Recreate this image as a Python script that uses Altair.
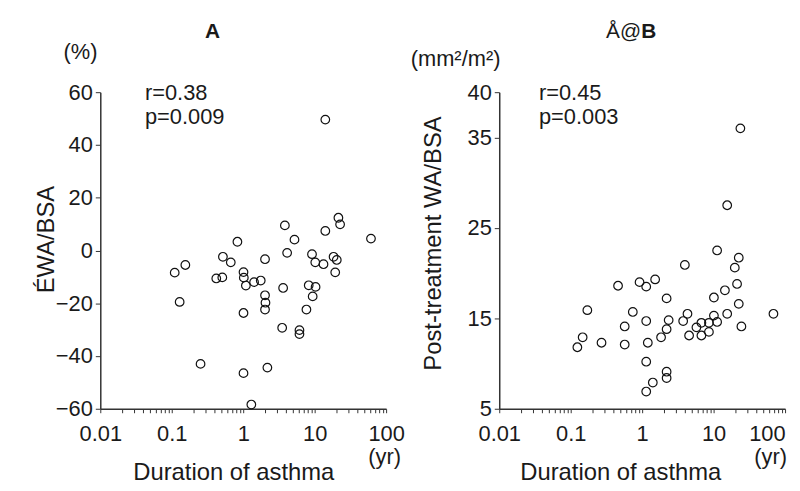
import altair as alt
import pandas as pd

FONT = "Liberation Sans"

# ---------------- data ----------------
a_duration = [14.1, 3.83, 5.22, 21.5, 22.7, 14.1, 61.4, 0.83, 4.12, 9.18,
              10.2, 13.3, 18.4, 20.4, 19.4, 2.02, 0.52, 0.67, 0.155, 0.110,
              0.42, 0.51, 1.01, 1.02, 1.42, 1.76, 3.62, 8.26, 10.3, 1.09,
              0.129, 2.02, 2.05, 2.02, 1.01, 9.38, 7.67, 3.51, 6.13, 6.13,
              0.253, 1.01, 2.18, 1.30]
a_ewa = [49.6, 9.5, 4.1, 12.4, 9.9, 7.4, 4.5, 3.3, -0.9, -1.4,
         -4.5, -5.2, -2.4, -3.6, -8.3, -3.3, -2.4, -4.5, -5.5, -8.4,
         -10.6, -10.2, -8.2, -10.3, -12.0, -11.4, -14.2, -13.2, -13.8, -13.3,
         -19.5, -17.0, -19.8, -22.4, -23.7, -17.4, -22.4, -29.3, -30.2, -31.7,
         -43.0, -46.5, -44.4, -58.4]

b_duration = [23.7, 15.5, 11.2, 22.5, 19.8, 3.96, 0.46, 0.92, 1.14, 1.52,
              21.3, 14.4, 10.1, 2.20, 22.5, 0.171, 0.74, 4.31, 15.5, 10.1,
              68.8, 3.75, 2.35, 1.14, 6.75, 8.6, 11.2, 5.75, 0.57, 24.5,
              2.20, 1.84, 4.54, 6.75, 8.6, 0.147, 0.124, 0.27, 0.57, 1.20,
              1.14, 2.20, 2.20, 1.41, 1.14]
b_wa = [36.0, 27.5, 22.5, 21.7, 20.6, 20.9, 18.6, 19.0, 18.5, 19.3,
        18.8, 18.1, 17.3, 17.2, 16.6, 15.9, 15.7, 15.5, 15.5, 15.3,
        15.5, 14.7, 14.8, 14.7, 14.5, 14.5, 14.6, 14.0, 14.1, 14.1,
        13.8, 12.9, 13.1, 13.1, 13.5, 12.9, 11.8, 12.3, 12.1, 12.3,
        10.2, 9.1, 8.4, 7.9, 6.9]

x_tick_values = [0.01, 0.02, 0.03, 0.04, 0.05, 0.06, 0.07, 0.08, 0.09,
                 0.1, 0.2, 0.3, 0.4, 0.5, 0.6, 0.7, 0.8, 0.9,
                 1, 2, 3, 4, 5, 6, 7, 8, 9,
                 10, 20, 30, 40, 50, 60, 70, 80, 90, 100]
x_domain = [0.01, 100]

a_y_ticks = [-60, -40, -20, 0, 20, 40, 60]
a_y_domain = [-60, 60]
b_y_ticks = [5, 15, 25, 35, 40]
b_y_domain = [5, 40]

W, H = 288, 319
TXT = "#1a1a1a"
AX = "#333333"


def x_enc(last_right, title_x):
    align = {"expr": "datum.value == 100 ? 'right' : 'center'"} if last_right else "center"
    return alt.X(
        "duration:Q",
        scale=alt.Scale(type="log", domain=x_domain, nice=False),
        axis=alt.Axis(
            values=x_tick_values,
            format="~g",
            labelExpr="indexof([0.01, 0.1, 1, 10, 100], datum.value) >= 0 ? datum.label : ''",
            labelOverlap=False,
            labelAlign=align,
            title="Duration of asthma",
            tickSize=4,
            labelPadding=11,
            minExtent=37,
            maxExtent=37,
            titlePadding=15,
            titleX=title_x,
        ),
    )


def y_enc(title, domain, ticks, extent, tpad, title_y):
    return alt.Y(
        "value:Q",
        scale=alt.Scale(domain=domain, nice=False, zero=False),
        axis=alt.Axis(
            values=ticks,
            title=title,
            tickSize=5,
            labelPadding=3,
            minExtent=extent,
            maxExtent=extent,
            titlePadding=tpad,
            titleY=title_y,
        ),
    )


def note(text, x, y, align="left", size=22, weight="normal", baseline="middle"):
    return alt.Chart(pd.DataFrame({"t": [text]})).mark_text(
        align=align, baseline=baseline, fontSize=size, font=FONT,
        fontWeight=weight, color=TXT
    ).encode(x=alt.value(x), y=alt.value(y), text="t:N")


dfA = pd.DataFrame({"duration": a_duration, "value": a_ewa})
dfB = pd.DataFrame({"duration": b_duration, "value": b_wa})

pts_style = dict(shape="circle", filled=False, color="#111111",
                 strokeWidth=1.2, size=75, opacity=1)

pointsA = alt.Chart(dfA).mark_point(**pts_style).encode(
    x=x_enc(False, 134),
    y=y_enc("ÉWA/BSA", a_y_domain, a_y_ticks, 38, 4, 148),
)
panelA = alt.layer(
    pointsA,
    note("r=0.38", 45, 1),
    note("p=0.009", 45, 25),
    note("(%)", -20, -40, align="center"),
    note("(yr)", 303, 368, align="right"),
    note("A", 113, -61, align="center", size=21, weight="bold"),
).properties(width=W, height=H)

pointsB = alt.Chart(dfB).mark_point(**pts_style).encode(
    x=x_enc(True, 122),
    y=y_enc("Post-treatment WA/BSA", b_y_domain, b_y_ticks, 40, 14, 152),
)
panelB = alt.layer(
    pointsB,
    note("r=0.45", 40, 1),
    note("p=0.003", 40, 25),
    note("(mm²/m²)", -44, -33, align="center"),
    note("(yr)", 290, 368, align="right"),
    note("Å@", 143, -61, align="right", size=21),
    note("B", 143, -61, align="left", size=21, weight="bold"),
).properties(width=W, height=H)

chart = alt.hconcat(panelA, panelB, spacing=114, bounds="flush").properties(
    padding={"left": 27, "top": 11, "right": 5, "bottom": 0}
).configure_view(stroke=None).configure_axis(
    grid=False,
    domainColor=AX,
    domainWidth=1.5,
    tickColor=AX,
    tickWidth=1,
    labelFont=FONT,
    labelFontSize=22,
    labelColor=TXT,
    titleFont=FONT,
    titleFontSize=24,
    titleFontWeight="normal",
    titleColor=TXT,
)

chart.save("out.html", embed_options={"renderer": "svg", "actions": False})
